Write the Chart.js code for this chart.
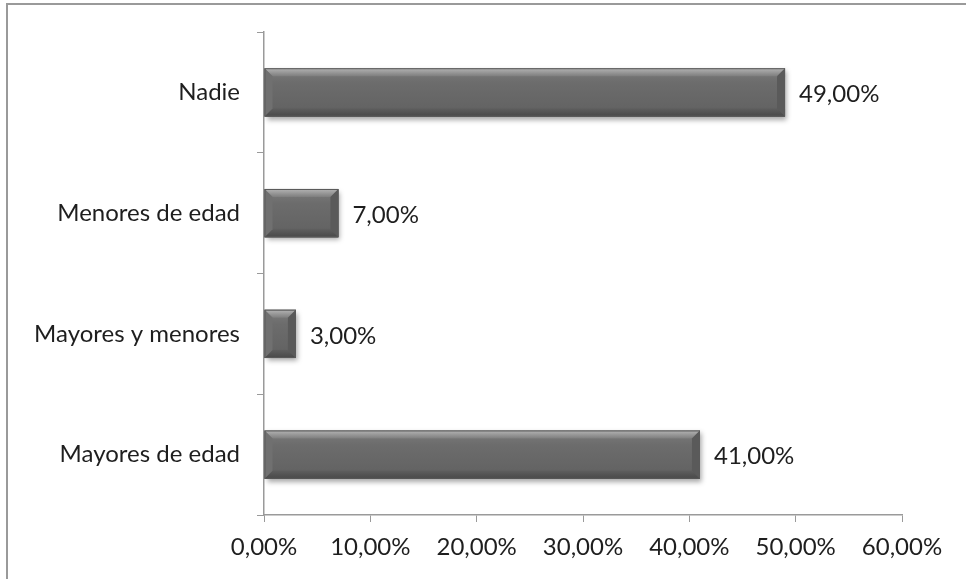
<!DOCTYPE html>
<html>
<head>
<meta charset="utf-8">
<script src="https://cdn.jsdelivr.net/npm/chart.js@4.4.1/dist/chart.umd.min.js"></script>
<style>
  html, body { margin:0; padding:0; background:#fff; }
  #wrap { position:relative; width:966px; height:579px; overflow:hidden; }
  #frame { position:absolute; left:6px; top:3px; width:1000px; height:700px;
           border-top:2px solid #9a9a9a; border-left:2px solid #9a9a9a; }
  canvas { position:absolute; left:0; top:0; }
</style>
</head>
<body>
<div id="wrap">
  <div id="frame"></div>
  <canvas id="chart" width="966" height="579"></canvas>
</div>
<script>
const categories = ['Nadie', 'Menores de edad', 'Mayores y menores', 'Mayores de edad'];
const values = [49, 7, 3, 41];
const xTicks = [0, 10, 20, 30, 40, 50, 60];

const FONT = { family:'Lato, "Open Sans", sans-serif', size:24 };
const TEXT = '#1e1e1e';
const AXIS = '#9a9a9a';

const fmt = v => v.toFixed(2).replace('.', ',') + '%';

// bevelled bar look, drawn over each bar rectangle
const bevel = {
  id: 'bevel',
  afterDatasetsDraw(chart) {
    const ctx = chart.ctx;
    chart.getDatasetMeta(0).data.forEach(bar => {
      const l = Math.min(bar.base, bar.x), r = Math.max(bar.base, bar.x);
      const t = bar.y - bar.height / 2, b = bar.y + bar.height / 2;
      const e = Math.min(8, (r - l) / 2);
      ctx.save();
      // soft shadow
      ctx.shadowColor = 'rgba(0,0,0,.35)';
      ctx.shadowBlur = 5; ctx.shadowOffsetX = 2; ctx.shadowOffsetY = 3;
      ctx.fillStyle = '#666';
      ctx.fillRect(l, t, r - l, b - t);
      ctx.restore();

      ctx.save();
      const g = ctx.createLinearGradient(0, t, 0, b);
      g.addColorStop(0, '#7c7c7c');
      g.addColorStop(0.3, '#6c6c6c');
      g.addColorStop(0.8, '#646464');
      g.addColorStop(1, '#565656');
      ctx.fillStyle = g;
      ctx.fillRect(l, t, r - l, b - t);

      const poly = (pts, fill) => {
        ctx.beginPath();
        ctx.moveTo(pts[0][0], pts[0][1]);
        pts.slice(1).forEach(p => ctx.lineTo(p[0], p[1]));
        ctx.closePath();
        ctx.fillStyle = fill;
        ctx.fill();
      };
      const gt = ctx.createLinearGradient(0, t, 0, t + e);
      gt.addColorStop(0, '#b4b4b4');
      gt.addColorStop(1, '#7e7e7e');
      poly([[l, t], [r, t], [r - e, t + e], [l + e, t + e]], gt);
      const gb = ctx.createLinearGradient(0, b - e, 0, b);
      gb.addColorStop(0, '#5e5e5e');
      gb.addColorStop(1, '#484848');
      poly([[l, b], [r, b], [r - e, b - e], [l + e, b - e]], gb);
      poly([[l, t], [l + e, t + e], [l + e, b - e], [l, b]], '#707070');
      poly([[r, t], [r - e, t + e], [r - e, b - e], [r, b]], '#5a5a5a');

      ctx.strokeStyle = '#5a5a5a';
      ctx.lineWidth = 1;
      ctx.strokeRect(l + 0.5, t + 0.5, r - l - 1, b - t - 1);
      ctx.restore();
    });
  }
};

// value text to the right of each bar
const valueLabels = {
  id: 'valueLabels',
  afterDatasetsDraw(chart) {
    const ctx = chart.ctx;
    const ds = chart.data.datasets[0];
    ctx.save();
    ctx.font = `${FONT.size}px ${FONT.family}`;
    ctx.fillStyle = TEXT;
    ctx.textAlign = 'left';
    ctx.textBaseline = 'middle';
    chart.getDatasetMeta(0).data.forEach((bar, i) => {
      ctx.fillText(fmt(ds.data[i]), bar.x + 14, bar.y + 2);
    });
    ctx.restore();
  }
};

new Chart(document.getElementById('chart'), {
  type: 'bar',
  data: {
    labels: categories,
    datasets: [{
      data: values,
      backgroundColor: 'rgba(0,0,0,0)',
      borderWidth: 0,
      barPercentage: 0.4,
      categoryPercentage: 1,
    }]
  },
  options: {
    indexAxis: 'y',
    responsive: false,
    animation: false,
    layout: { padding: { top: 32, right: 64, left: 0, bottom: 0 } },
    plugins: { legend: { display: false }, tooltip: { enabled: false } },
    scales: {
      x: {
        min: 0, max: 60,
        afterBuildTicks: s => { s.ticks = xTicks.map(v => ({ value: v })); },
        afterFit: s => { s.height = 64; },
        grid: { drawOnChartArea: false, tickLength: 7, color: AXIS },
        border: { color: AXIS, width: 1.5 },
        ticks: { color: TEXT, font: FONT, padding: 11, callback: v => fmt(v) },
      },
      y: {
        afterFit: s => { s.width = 264; },
        grid: { drawOnChartArea: false, tickLength: 7, color: AXIS, offset: true },
        border: { color: AXIS, width: 1.5 },
        ticks: { color: TEXT, font: FONT, padding: 17 },
      }
    }
  },
  plugins: [bevel, valueLabels]
});
</script>
</body>
</html>
